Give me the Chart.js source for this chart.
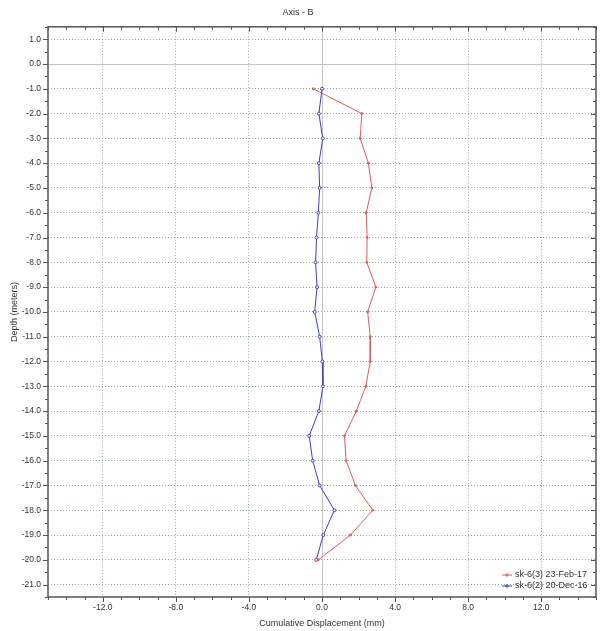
<!DOCTYPE html>
<html>
<head>
<meta charset="utf-8">
<script src="https://cdn.jsdelivr.net/npm/chart.js@4"></script>
<style>
  body { margin: 0; background: #fff; }
</style>
</head>
<body>
<canvas id="depthChart" width="603" height="631"></canvas>
<script>
// depth of each reading (m)
const depths = [-1, -2, -3, -4, -5, -6, -7, -8, -9, -10, -11, -12, -13, -14, -15, -16, -17, -18, -19, -20];

// cumulative displacement (mm)
const sk63 = [-0.48, 2.18, 2.09, 2.54, 2.73, 2.42, 2.47, 2.45, 2.95, 2.5, 2.64, 2.64, 2.4, 1.88, 1.23, 1.32, 1.83, 2.78, 1.56, -0.2];
const sk62 = [0.0, -0.17, 0.04, -0.17, -0.13, -0.2, -0.3, -0.35, -0.27, -0.4, -0.13, 0.02, 0.05, -0.17, -0.7, -0.51, -0.13, 0.68, 0.07, -0.31];

const seriesNames = ['sk-6(3) 23-Feb-17', 'sk-6(2) 20-Dec-16'];

const xMin = -15, xMax = 15;
const yMin = -21.5, yMax = 1.5;

const FONT = 'Arial, "Liberation Sans", sans-serif';
const gridGreen = 'rgba(125,165,125,0.85)';

const toPoints = (xs) => xs.map((x, i) => ({ x: x, y: depths[i] }));
const isInt = (v) => Math.abs(v - Math.round(v)) < 1e-6;

// frame, zero lines, tick marks and legend
const framePlugin = {
    id: 'frame',
    beforeDatasetsDraw(chart) {
        const { ctx, chartArea: a, scales: { x, y } } = chart;
        ctx.save();
        ctx.strokeStyle = '#c4c4c4';
        ctx.lineWidth = 1;
        const x0 = Math.round(x.getPixelForValue(0)) + 0.5;
        const y0 = Math.round(y.getPixelForValue(0)) + 0.5;
        ctx.beginPath();
        ctx.moveTo(x0, a.top); ctx.lineTo(x0, a.bottom);
        ctx.moveTo(a.left, y0); ctx.lineTo(a.right, y0);
        ctx.stroke();
        ctx.restore();
    },
    afterDraw(chart) {
        const { ctx, chartArea: a, scales: { x, y } } = chart;
        ctx.save();
        ctx.strokeStyle = '#555';
        ctx.lineWidth = 1.5;
        ctx.strokeRect(a.left, a.top, a.right - a.left, a.bottom - a.top);

        ctx.lineWidth = 1;
        ctx.beginPath();
        x.ticks.forEach(t => {
            const px = Math.round(x.getPixelForValue(t.value)) + 0.5;
            const len = (isInt(t.value / 4)) ? 5 : 3;
            ctx.moveTo(px, a.bottom); ctx.lineTo(px, a.bottom + len);
            ctx.moveTo(px, a.top); ctx.lineTo(px, a.top + len);
        });
        y.ticks.forEach(t => {
            const py = Math.round(y.getPixelForValue(t.value)) + 0.5;
            const len = isInt(t.value) ? 5 : 3;
            ctx.moveTo(a.left - len, py); ctx.lineTo(a.left, py);
            ctx.moveTo(a.right - len, py); ctx.lineTo(a.right, py);
        });
        ctx.stroke();

        // legend, bottom right inside the plot
        ctx.font = '9px ' + FONT;
        ctx.textBaseline = 'middle';
        ctx.textAlign = 'left';
        chart.data.datasets.forEach((ds, i) => {
            const ly = a.bottom - 22 + i * 11;
            const lx = a.right - 94;
            ctx.strokeStyle = ds.borderColor;
            ctx.beginPath();
            ctx.moveTo(lx, ly); ctx.lineTo(lx + 10, ly);
            ctx.stroke();
            ctx.beginPath();
            ctx.arc(lx + 5, ly, 1.2, 0, Math.PI * 2);
            ctx.stroke();
            ctx.fillStyle = '#333';
            ctx.fillText(ds.label, lx + 13, ly);
        });
        ctx.restore();
    }
};

new Chart(document.getElementById('depthChart'), {
    type: 'scatter',
    data: {
        datasets: [
            {
                label: seriesNames[0],
                data: toPoints(sk63),
                showLine: true,
                borderColor: 'rgb(226,92,92)',
                backgroundColor: 'rgb(226,92,92)',
                borderWidth: 1,
                pointRadius: 1,
                pointBorderWidth: 1,
                pointBackgroundColor: 'rgb(226,92,92)',
                pointHoverRadius: 1
            },
            {
                label: seriesNames[1],
                data: toPoints(sk62),
                showLine: true,
                borderColor: 'rgb(60,62,200)',
                backgroundColor: 'rgb(60,62,200)',
                borderWidth: 1,
                pointRadius: 1.5,
                pointBorderWidth: 1,
                pointBackgroundColor: '#fff',
                pointHoverRadius: 1.5
            }
        ]
    },
    options: {
        responsive: false,
        animation: false,
        layout: { padding: { left: 0, right: 7, top: 0, bottom: 0 } },
        plugins: {
            legend: { display: false },
            tooltip: { enabled: false },
            title: {
                display: true,
                text: 'Axis - B',
                color: '#333',
                font: { family: FONT, size: 9, weight: 'normal' },
                padding: { top: 7, bottom: 9 }
            }
        },
        scales: {
            x: {
                type: 'linear',
                min: xMin,
                max: xMax,
                afterFit: (s) => { s.height = 34; },
                ticks: {
                    stepSize: 1,
                    autoSkip: false,
                    maxRotation: 0,
                    padding: 6,
                    color: '#333',
                    font: { family: FONT, size: 8.5 },
                    callback: (v) => isInt(v / 4) ? v.toFixed(1) : ''
                },
                grid: {
                    drawTicks: false,
                    lineWidth: 1,
                    color: (c) => (c.tick && c.tick.value !== 0 && isInt(c.tick.value / 4)) ? gridGreen : 'rgba(0,0,0,0)'
                },
                border: { display: false, dash: [1, 2] },
                title: {
                    display: true,
                    text: 'Cumulative Displacement (mm)',
                    color: '#333',
                    font: { family: FONT, size: 9 },
                    padding: { top: 0, bottom: 2 }
                }
            },
            y: {
                type: 'linear',
                min: yMin,
                max: yMax,
                afterFit: (s) => { s.width = 48; },
                ticks: {
                    stepSize: 0.5,
                    autoSkip: false,
                    padding: 7,
                    color: '#333',
                    font: { family: FONT, size: 8.5 },
                    callback: (v) => isInt(v) ? Number(v).toFixed(1) : ''
                },
                grid: {
                    drawTicks: false,
                    lineWidth: 1,
                    color: (c) => (c.tick && c.tick.value !== 0 && isInt(c.tick.value)) ? gridGreen : 'rgba(0,0,0,0)'
                },
                border: { display: false, dash: [1, 2] },
                title: {
                    display: true,
                    text: 'Depth (meters)',
                    color: '#333',
                    font: { family: FONT, size: 9 },
                    padding: { top: 9, bottom: 0 }
                }
            }
        }
    },
    plugins: [framePlugin]
});
</script>
</body>
</html>
